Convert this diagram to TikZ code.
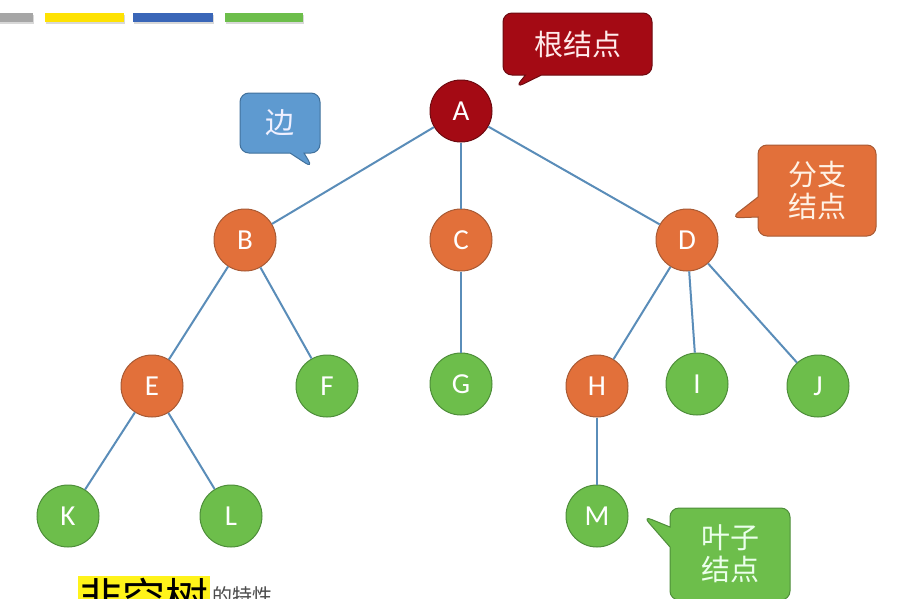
\documentclass[tikz,border=0pt]{standalone}
\usepackage{fontspec}
\setmainfont{Carlito}
\newfontfamily\cjk{Noto Sans CJK SC}
\usetikzlibrary{shapes.callouts,shadows}
\definecolor{edgeblue}{HTML}{5A8DB9}
\definecolor{rootred}{HTML}{A40A14}
\definecolor{rootredd}{HTML}{6E0A10}
\definecolor{branchor}{HTML}{E2703A}
\definecolor{branchord}{HTML}{A85A34}
\definecolor{leafgr}{HTML}{6DBE4B}
\definecolor{leafgrd}{HTML}{4E8E3A}
\definecolor{calblue}{HTML}{5E9AD0}
\definecolor{calblued}{HTML}{41719C}
\definecolor{barblue}{HTML}{3A66B8}
\tikzset{
  tn/.style={circle,minimum size=62pt,inner sep=0pt,line width=1pt,text=white,font=\fontsize{29}{30}\selectfont},
  rootn/.style={tn,fill=rootred,draw=rootredd},
  brn/.style={tn,fill=branchor,draw=branchord},
  lfn/.style={tn,fill=leafgr,draw=leafgrd},
  edge/.style={draw=edgeblue,line width=2pt},
  cal/.style={rectangle callout,rounded corners=9pt,line width=1pt,inner sep=0pt,align=center,font=\cjk\fontsize{29}{32}\selectfont},
  sh/.style={drop shadow={shadow xshift=1pt,shadow yshift=-1.5pt,opacity=0.3}},
}
\begin{document}
\begin{tikzpicture}[x=1pt,y=-1pt]
\useasboundingbox (0,0) rectangle (903,598);
\clip (0,0) rectangle (903,598);
\fill[white] (0,0) rectangle (903,598);
% top bars
\fill[gray!70,sh] (-2,13) rectangle (33,22);
\fill[yellow!85!orange,sh] (45,13) rectangle (124,22);
\fill[barblue,sh] (133,13) rectangle (213,22);
\fill[leafgr,sh] (225,13) rectangle (303,22);
% nodes
\node[rootn] (A) at (461,111) {A};
\node[brn] (B) at (245,240) {B};
\node[brn] (C) at (461,240) {C};
\node[brn] (D) at (687,240) {D};
\node[brn] (E) at (152,386) {E};
\node[lfn] (F) at (327,386) {F};
\node[lfn] (G) at (461,384) {G};
\node[brn] (H) at (597,386) {H};
\node[lfn] (I) at (697,384) {I};
\node[lfn] (J) at (818,386) {J};
\node[lfn] (K) at (68,516) {K};
\node[lfn] (L) at (231,516) {L};
\node[lfn] (M) at (597,516) {M};
% edges
\foreach \a/\b in {A/B,A/C,A/D,B/E,B/F,C/G,D/H,D/I,D/J,E/K,E/L,H/M}
  \draw[edge] (\a) -- (\b);
% callouts
\coordinate (p1) at (515,88);
\coordinate (p2) at (313,168);
\coordinate (p3) at (731,218);
\coordinate (p4) at (643,516);
\node[cal,fill=rootred,draw=rootredd,text=red!8,minimum width=149pt,minimum height=62pt,callout absolute pointer={(p1)},callout pointer width=16pt] (c1) at (577.5,44) {根结点};
\node[cal,fill=calblue,draw=calblued,text=blue!6,minimum width=80pt,minimum height=60pt,callout absolute pointer={(p2)},callout pointer width=14pt] (c2) at (280,123) {边};
\node[cal,fill=branchor,draw=branchord,text=orange!10,minimum width=118pt,minimum height=91pt,callout absolute pointer={(p3)},callout pointer width=20pt] (c3) at (817,190.5) {分支\\结点};
\node[cal,fill=leafgr,draw=leafgrd,text=green!8,minimum width=120pt,minimum height=92pt,callout absolute pointer={(p4)},callout pointer width=20pt] (c4) at (730,554) {叶子\\结点};
% bottom text (cut off as in the reference)
\fill[yellow!90!white] (78,576) rectangle (210,612);
\node[anchor=north west,inner sep=0pt,font=\cjk\fontsize{43}{45}\selectfont] (t1) at (79,578) {非空树};
\node[anchor=north west,inner sep=0pt,font=\cjk\fontsize{20}{22}\selectfont,text=black!70] (t2) at (212,586) {的特性};
\end{tikzpicture}
\end{document}
